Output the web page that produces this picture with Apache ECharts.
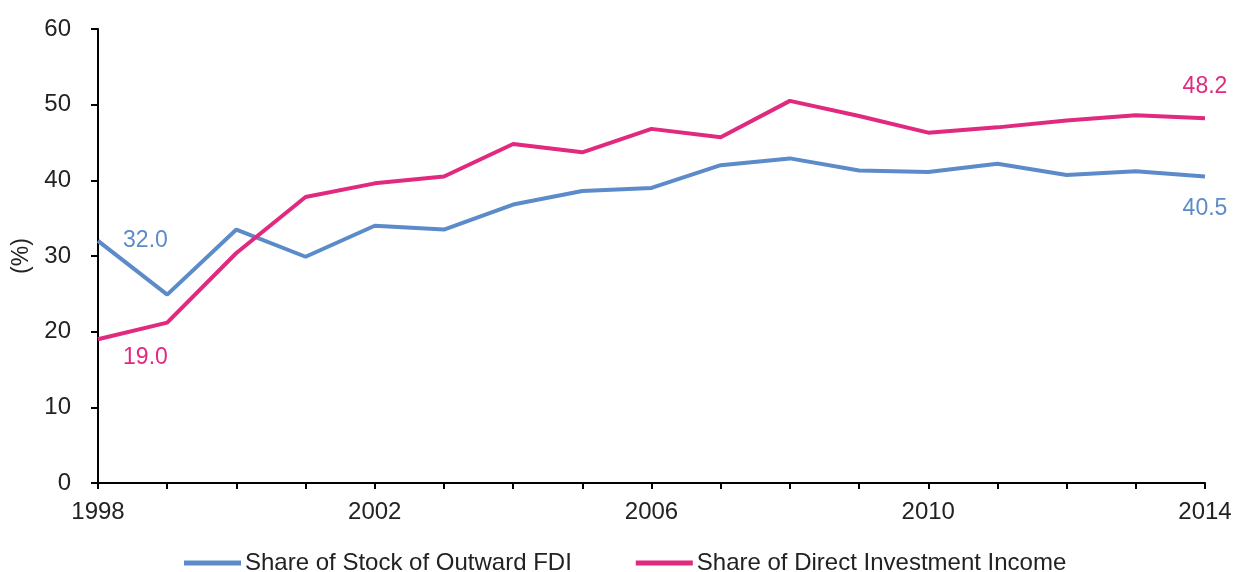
<!DOCTYPE html>
<html>
<head>
<meta charset="utf-8">
<script src="https://cdn.jsdelivr.net/npm/echarts@6/dist/echarts.min.js"></script>
<style>html,body{margin:0;padding:0;background:#fff;}#c{width:1233px;height:572px;}</style>
</head>
<body>
<div id="c"></div>
<script>
var years = ['1998','1999','2000','2001','2002','2003','2004','2005','2006','2007','2008','2009','2010','2011','2012','2013','2014'];
var stockFDI = [32.0, 24.9, 33.5, 29.9, 34.0, 33.5, 36.8, 38.6, 39.0, 42.0, 42.9, 41.3, 41.1, 42.2, 40.7, 41.2, 40.5];
var investIncome = [19.0, 21.2, 30.4, 37.8, 39.6, 40.5, 44.8, 43.7, 46.8, 45.7, 50.5, 48.5, 46.3, 47.0, 47.9, 48.6, 48.2];
var seriesNames = ['Share of Stock of Outward FDI', 'Share of Direct Investment Income'];
var yTicks = [0, 10, 20, 30, 40, 50, 60];

var BLUE = '#5b8bc9', PINK = '#e0297f';
var FONT = 'Liberation Sans, Arial, sans-serif';

function withLabels(arr, color, firstLbl, lastLbl) {
  var base = { show: true, color: color, fontSize: 23, fontFamily: FONT, formatter: function (p) { return p.value.toFixed(1); } };
  return arr.map(function (v, i) {
    if (i === 0) return { value: v, label: Object.assign({}, base, firstLbl) };
    if (i === arr.length - 1) return { value: v, label: Object.assign({}, base, lastLbl) };
    return v;
  });
}

var chart = echarts.init(document.getElementById('c'), null, { renderer: 'canvas' });
chart.setOption({
  animation: false,
  backgroundColor: '#fff',
  textStyle: { fontFamily: FONT },
  grid: { left: 98, right: 28, top: 29, bottom: 89, containLabel: false, outerBoundsMode: 'none' },
  legend: {
    top: 546,
    left: 179,
    itemWidth: 57,
    itemHeight: 5,
    itemGap: 64,
    icon: 'rect',
    textStyle: { fontSize: 24, color: '#222', fontFamily: FONT, padding: [0, 0, 0, -1] },
    data: seriesNames
  },
  xAxis: {
    type: 'category',
    data: years,
    boundaryGap: false,
    axisLine: { lineStyle: { color: '#000', width: 2 } },
    axisTick: { show: true, length: 6, interval: 0, lineStyle: { color: '#000', width: 2 } },
    axisLabel: { interval: 3, margin: 17, fontSize: 24, color: '#222', fontFamily: FONT },
    splitLine: { show: false }
  },
  yAxis: {
    type: 'value',
    min: 0, max: 60, interval: 10,
    name: '(%)',
    nameLocation: 'middle',
    nameRotate: 90,
    nameGap: 60,
    nameTextStyle: { fontSize: 23, color: '#222', fontFamily: FONT },
    axisLine: { show: true, lineStyle: { color: '#000', width: 2 } },
    axisTick: { show: true, length: 7, lineStyle: { color: '#000', width: 2 } },
    axisLabel: { margin: 27, fontSize: 24, color: '#222', fontFamily: FONT,
      formatter: function (v) { return yTicks.indexOf(v) >= 0 ? String(v) : ''; } },
    splitLine: { show: false }
  },
  series: [
    {
      name: seriesNames[0], type: 'line',
      data: withLabels(stockFDI, BLUE, { position: 'right', distance: 25 }, { position: 'bottom', distance: 21 }),
      symbol: 'circle', symbolSize: 0.1, showSymbol: true,
      lineStyle: { color: BLUE, width: 4 }, itemStyle: { color: BLUE },
      z: 2
    },
    {
      name: seriesNames[1], type: 'line',
      data: withLabels(investIncome, PINK, { position: 'right', distance: 25, offset: [0, 18] }, { position: 'top', distance: 20 }),
      symbol: 'circle', symbolSize: 0.1, showSymbol: true,
      lineStyle: { color: PINK, width: 4 }, itemStyle: { color: PINK },
      z: 3
    }
  ]
});
</script>
</body>
</html>
